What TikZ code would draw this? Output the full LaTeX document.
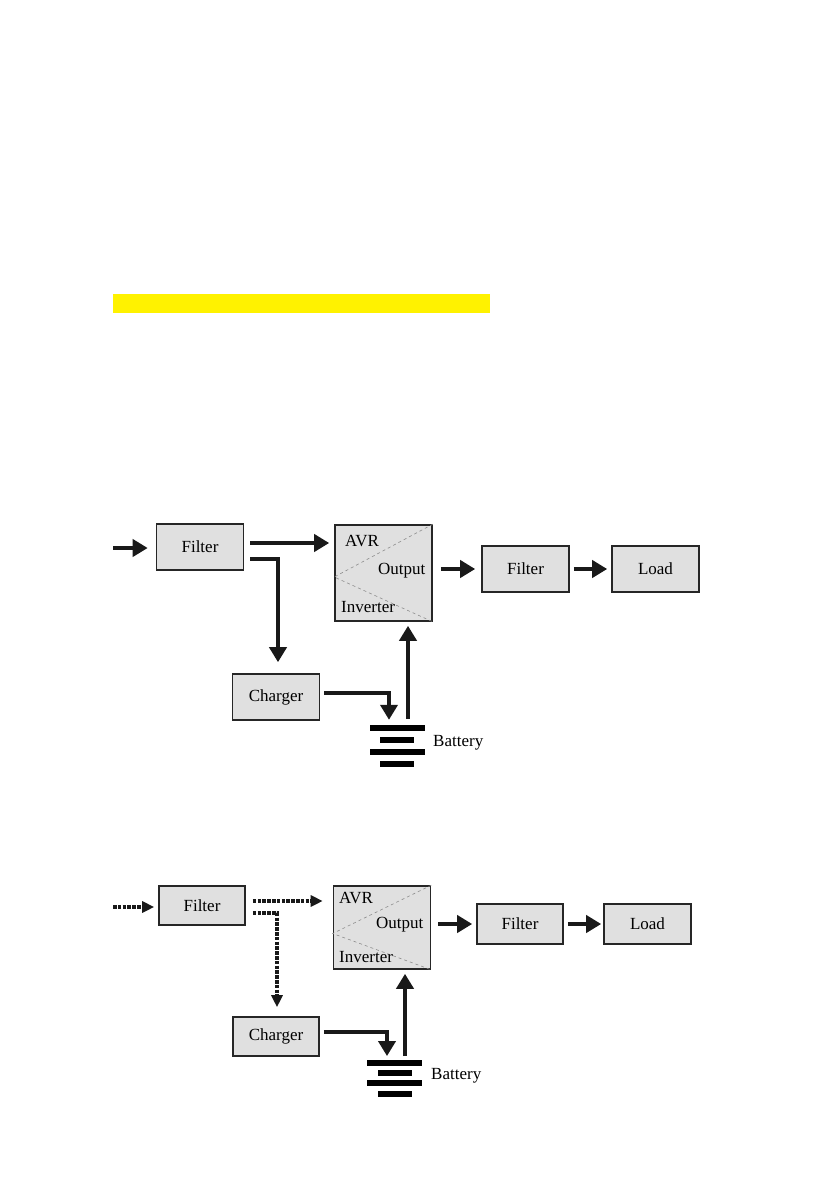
\documentclass[tikz,border=0pt]{standalone}
\usepackage{fontspec}
\setmainfont{Liberation Serif}
\usepackage{xcolor}
\usetikzlibrary{positioning, arrows.meta}

\begin{document}
\begin{tikzpicture}[
    x=1pt, y=-1pt,
    % kotak blok
    blockbox/.style={
        draw=black!85,
        line width=1.6pt,
        rectangle,
        fill=black!12,
        minimum width=87pt,
        minimum height=46pt,
        inner sep=0pt,
        font=\fontsize{17}{20}\selectfont
    },
    avrbox/.style={blockbox, minimum width=97pt, minimum height=96pt},
    txt/.style={inner sep=0pt, anchor=base west, font=\fontsize{17}{20}\selectfont},
    % garis diagonal di dalam kotak AVR
    divline/.style={draw=black!45, dashed, line width=0.6pt},
    % pelat baterai
    plate/.style={fill=black, inner sep=0pt, minimum height=6pt, minimum width=#1},
    % panah
    flow/.style={-{Triangle[length=15pt, width=17pt]}, line width=4.5pt, draw=black!90},
    dflow/.style={-{Triangle[length=12pt, width=11pt]}, line width=3.6pt, draw=black!90,
        dash pattern=on 3.5pt off 1.3pt}
]
\useasboundingbox (0,0) rectangle (839,1191);
\fill[white] (0,0) rectangle (839,1191);

% bar kuning
\fill[yellow] (113,294) rectangle (490,313);

% =====================================================================
% DIAGRAM 1
% =====================================================================
\node (filt1) [blockbox] at (200,547) {Filter};
\node (avr1) [avrbox] at (383.5,573) {};
\node (filt2) [blockbox] at (525.5,569) {Filter};
\node (load1) [blockbox] at (655.5,569) {\raisebox{-2pt}{Load}};
\node (chg1) [blockbox] at (276,697) {Charger};

\draw [divline] (avr1.north east) -- ([yshift=-4]avr1.west) -- (avr1.south east);
\node [txt] at (345,546) {AVR};
\node [txt] at (378,574) {Output};
\node [txt] at (341,612) {Inverter};

\node (bat1a) [plate=55pt] at (397.5,728) {};
\node (bat1b) [plate=34pt] at (397,739.5) {};
\node (bat1c) [plate=55pt] at (397.5,752) {};
\node (bat1d) [plate=34pt] at (397,764) {};
\node [txt] at (433,746) {Battery};

\coordinate (in1) at (113,548);
\coordinate (f1a) at ([shift={(6,-4)}]filt1.east);
\coordinate (f1b) at ([shift={(6,12)}]filt1.east);
\coordinate (c1a) at ([shift={(4,-4)}]chg1.east);
\coordinate (b1a) at ([xshift=10.5]bat1a.north);

\draw [flow, shorten >=8pt] (in1) -- (filt1.west |- in1);
\draw [flow, shorten >=5pt] (f1a) -- (f1a -| avr1.west);
\draw [flow, shorten >=11pt] (f1b) -| ([xshift=2]chg1.north);
\draw [flow, shorten <=8pt, shorten >=6pt] (avr1.east |- filt2.west) -- (filt2.west);
\draw [flow, shorten <=4pt, shorten >=4pt] (filt2.east) -- (load1.west);
\draw [flow, shorten >=5pt] (c1a) -| ([xshift=-8.5]bat1a.north);
\draw [flow, shorten <=6pt, shorten >=4pt] (b1a) -- (b1a |- avr1.south);

% =====================================================================
% DIAGRAM 2
% =====================================================================
\node (filt3) [blockbox, minimum width=86pt, minimum height=39pt] at (202,905.5) {Filter};
\node (avr2) [avrbox, minimum height=83pt] at (382,927.5) {};
\node (filt4) [blockbox, minimum width=86pt, minimum height=40pt] at (520,924) {Filter};
\node (load2) [blockbox, minimum width=87pt, minimum height=40pt] at (647.5,924) {\raisebox{-2pt}{Load}};
\node (chg2) [blockbox, minimum width=86pt, minimum height=39pt] at (276,1036.5) {Charger};

\draw [divline] (avr2.north east) -- ([yshift=-6]avr2.west) -- (avr2.south east);
\node [txt] at (339,903) {AVR};
\node [txt] at (376,928) {Output};
\node [txt] at (339,962) {Inverter};

\node (bat2a) [plate=55pt, minimum height=5.5pt] at (394.5,1063) {};
\node (bat2b) [plate=34pt, minimum height=5.5pt] at (395,1073) {};
\node (bat2c) [plate=55pt, minimum height=5.5pt] at (394.5,1083) {};
\node (bat2d) [plate=34pt, minimum height=5.5pt] at (395,1094) {};
\node [txt] at (431,1079) {Battery};

\coordinate (in2) at (113,907);
\coordinate (f3a) at ([shift={(7,-4.5)}]filt3.east);
\coordinate (f3b) at ([shift={(7,7.5)}]filt3.east);
\coordinate (c2a) at ([shift={(4,-4.5)}]chg2.east);
\coordinate (b2a) at ([xshift=10.5]bat2a.north);

\draw [dflow, shorten >=4pt] (in2) -- (filt3.west |- in2);
\draw [dflow, shorten >=10pt] (f3a) -- (f3a -| avr2.west);
\draw [dflow, shorten >=9pt] (f3b) -| ([xshift=1]chg2.north);
\draw [flow, shorten <=7pt, shorten >=4pt] (avr2.east |- filt4.west) -- (filt4.west);
\draw [flow, shorten <=4pt, shorten >=2pt] (filt4.east) -- (load2.west);
\draw [flow, shorten >=4pt] (c2a) -| ([xshift=-7.5]bat2a.north);
\draw [flow, shorten <=4pt, shorten >=4pt] (b2a) -- (b2a |- avr2.south);

\end{tikzpicture}
\end{document}
